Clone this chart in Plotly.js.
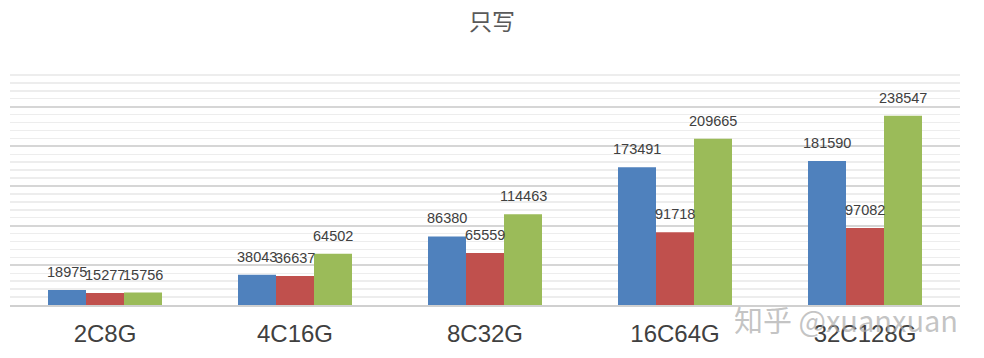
<!DOCTYPE html>
<html>
<head>
<meta charset="utf-8">
<script src="https://cdn.plot.ly/plotly-3.0.1.min.js"></script>
<style>
  html, body { margin: 0; padding: 0; background: #fff; }
  #chart { width: 984px; height: 358px; }
</style>
</head>
<body>
<div id="chart"></div>
<script>
// Machine sizes (CPU cores / memory)
const categories = ['2C8G', '4C16G', '8C32G', '16C64G', '32C128G'];

// Write-only throughput for the three compared setups
const seriesBlue  = [18975, 38043, 86380, 173491, 181590];
const seriesRed   = [15277, 36637, 65559, 91718, 97082];
const seriesGreen = [15756, 64502, 114463, 209665, 238547];

const colors = ['#4F81BD', '#C0504D', '#9BBB59'];
const series = [seriesBlue, seriesRed, seriesGreen];

const W = 984, H = 358;
const margin = { l: 10, r: 24, t: 67, b: 53 };
const bargap = 0.4;

const traces = series.map((vals, i) => ({
  type: 'bar',
  x: categories,
  y: vals,
  marker: { color: colors[i] },
  hoverinfo: 'x+y',
  showlegend: false
}));

// Value labels sit a little above each bar; horizontal offset follows the bar slot width
const slotW = (W - margin.l - margin.r) / categories.length;
const barW = slotW * (1 - bargap) / series.length;
const labelFont = { family: 'Liberation Sans, Arial, sans-serif', size: 14.5, color: '#404040' };
const valueLabels = [];
series.forEach((vals, i) => {
  vals.forEach((v, j) => {
    valueLabels.push({
      x: categories[j], y: v, xref: 'x', yref: 'y',
      text: String(v), showarrow: false,
      xanchor: 'center', yanchor: 'bottom',
      xshift: (i - (series.length - 1) / 2) * barW,
      yshift: 8,
      font: labelFont
    });
  });
});

const layout = {
  width: W,
  height: H,
  margin: margin,
  paper_bgcolor: '#ffffff',
  plot_bgcolor: '#ffffff',
  barmode: 'group',
  bargap: bargap,
  bargroupgap: 0,
  title: {
    text: '只写',
    font: { family: 'Noto Sans CJK SC, sans-serif', size: 23, color: '#595959' },
    x: 0.5, xanchor: 'center',
    y: 0.938, yanchor: 'middle'
  },
  xaxis: {
    tickfont: { family: 'Liberation Sans, Arial, sans-serif', size: 24, color: '#404040' },
    ticks: 'outside', ticklen: 6, tickcolor: 'rgba(0,0,0,0)',
    showline: true, linecolor: '#d0d0d0', linewidth: 2,
    showgrid: false, zeroline: false
  },
  yaxis: {
    range: [0, 300000],
    dtick: 50000,
    showticklabels: false,
    showgrid: true, gridcolor: '#d6d6d6', gridwidth: 2,
    zeroline: false,
    minor: { dtick: 10000, showgrid: true, gridcolor: '#ededed', gridwidth: 1.5 }
  },
  annotations: valueLabels.concat([{
    text: '知乎 @xuanxuan',
    xref: 'paper', yref: 'paper',
    x: 1.0, y: -0.06, xanchor: 'right', yanchor: 'middle',
    showarrow: false,
    font: { family: 'Noto Sans CJK SC, sans-serif', size: 29, color: 'rgba(170,170,170,0.7)' }
  }])
};

Plotly.newPlot('chart', traces, layout, { displayModeBar: false, staticPlot: true });
</script>
</body>
</html>
